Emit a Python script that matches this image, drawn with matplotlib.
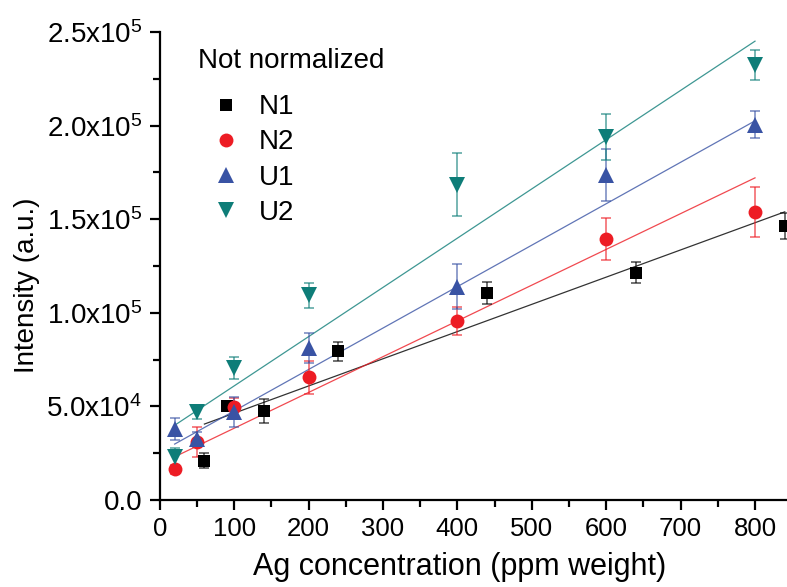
import numpy as np
import matplotlib.pyplot as plt
from matplotlib.lines import Line2D
from matplotlib.ticker import MultipleLocator, FuncFormatter

plt.rcParams["font.family"] = ["Liberation Sans", "DejaVu Sans"]
plt.rcParams["mathtext.default"] = "regular"

# data
n1_x = [60, 90, 140, 240, 440, 640, 840]
n1_y = [21000, 50000, 47500, 79500, 110500, 121500, 146500]
n1_err = [4000, 0, 6300, 5000, 6000, 5500, 7100]

n2_x = [20, 50, 100, 200, 400, 600, 800]
n2_y = [16400, 31000, 49500, 65500, 95500, 139500, 154000]
n2_err = [2200, 8000, 4800, 9000, 7400, 11000, 13400]

u1_x = [20, 50, 100, 200, 400, 600, 800]
u1_y = [38000, 32500, 47000, 81000, 114000, 173500, 200500]
u1_err = [6000, 4000, 8000, 8000, 12000, 14000, 7100]

u2_x = [20, 50, 100, 200, 400, 600, 800]
u2_y = [23000, 47000, 70500, 109500, 168500, 194000, 232500]
u2_err = [5000, 3700, 6000, 6700, 17000, 12300, 8000]

labels = ["N1", "N2", "U1", "U2"]
fit_slope = [145.3, 191.0, 221.3, 263.0]
fit_intercept = [31900, 19300, 25500, 34700]

colors = ["#000000", "#ed1c24", "#3953a4", "#0e7d78"]
markers = ["s", "o", "^", "v"]
msizes = [9, 10, 11, 11]

series = [(n1_x, n1_y, n1_err), (n2_x, n2_y, n2_err),
          (u1_x, u1_y, u1_err), (u2_x, u2_y, u2_err)]

fig = plt.figure(figsize=(7.87, 5.87), dpi=100)
ax = fig.add_axes([0.203, 0.148, 0.797, 0.7975])

handles = []
for (x, y, e), lab, c, m, ms, k, b in zip(series, labels, colors, markers,
                                           msizes, fit_slope, fit_intercept):
    x = np.array(x)
    fx = np.array([x.min(), x.max()])
    ax.plot(fx, k * fx + b, color=c, lw=0.9, alpha=0.8, zorder=2)
    ax.errorbar(x, y, yerr=e, fmt="none", ecolor=c, elinewidth=1.3,
                capsize=3.3, capthick=1.3, alpha=0.6, zorder=3)
    ax.plot(x, y, linestyle="none", marker=m, color=c, markersize=ms,
            markeredgewidth=0, zorder=4)
    handles.append(Line2D([], [], linestyle="none", marker=m, color=c,
                          markersize=ms, markeredgewidth=0, label=lab))

ax.set_xlim(0, 843)
ax.set_ylim(0, 2.5e5)
ax.xaxis.set_major_locator(MultipleLocator(100))
ax.xaxis.set_minor_locator(MultipleLocator(50))
ax.yaxis.set_major_locator(MultipleLocator(0.5e5))
ax.yaxis.set_minor_locator(MultipleLocator(0.25e5))


def yfmt(v, pos):
    if v <= 0:
        return "0.0"
    p = int(np.floor(np.log10(v)))
    return r"$%.1fx10^{%d}$" % (v / 10 ** p, p)


ax.yaxis.set_major_formatter(FuncFormatter(yfmt))

for s in ["top", "right"]:
    ax.spines[s].set_visible(False)
for s in ["left", "bottom"]:
    ax.spines[s].set_linewidth(1.6)
ax.tick_params(which="major", direction="out", length=7.5, width=1.6, pad=5)
ax.tick_params(which="minor", direction="out", length=5, width=1.6)
ax.tick_params(axis="y", labelsize=20)
ax.tick_params(axis="x", labelsize=18.5)

ax.set_xlabel("Ag concentration (ppm weight)", fontsize=22)
ax.set_ylabel("Intensity (a.u.)", fontsize=20)
ax.xaxis.set_label_coords(0.478, -0.111)
ax.yaxis.set_label_coords(-0.191, 0.458)

# legend title drawn as its own text, entries below it
ax.text(0.0606, 0.938, "Not normalized", transform=ax.transAxes,
        fontsize=20, ha="left", va="center")
leg = ax.legend(handles=handles, loc="upper left",
                bbox_to_anchor=(0.0606, 0.867), frameon=False, fontsize=20,
                handlelength=2.0, handletextpad=0.2, labelspacing=0.33,
                borderpad=0, borderaxespad=0)

fig.savefig("out.png", dpi=100)
